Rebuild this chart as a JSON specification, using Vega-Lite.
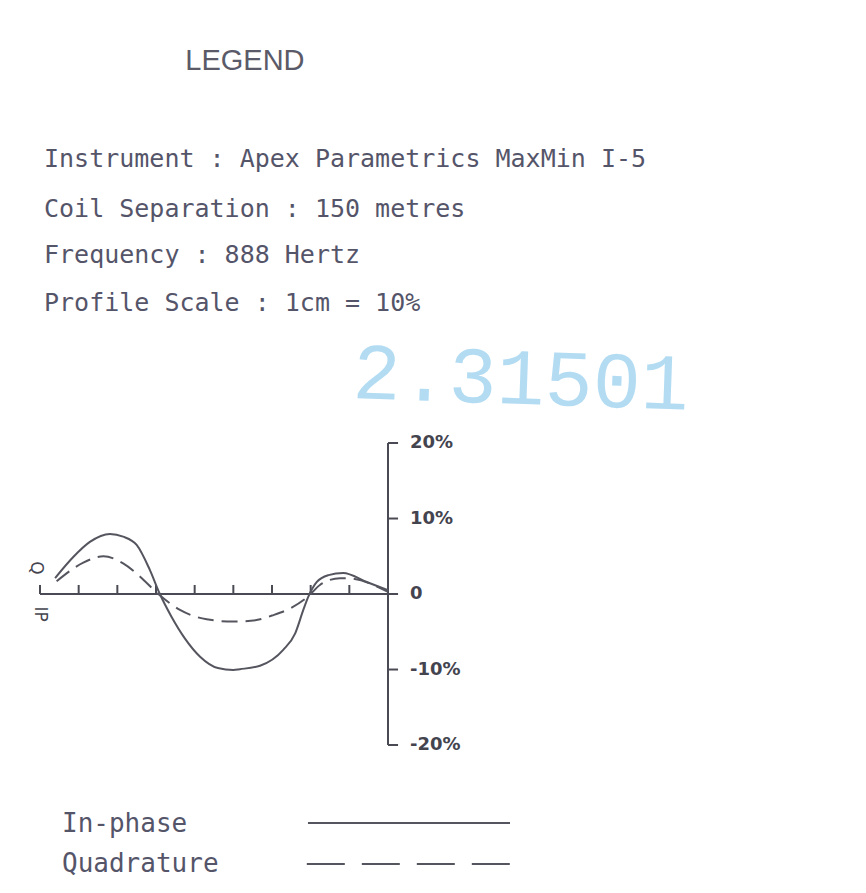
{
  "$schema": "https://vega.github.io/schema/vega-lite/v6.json",
  "width": 866,
  "height": 893,
  "autosize": {"type": "fit", "contains": "padding"},
  "padding": 0,
  "background": "white",
  "config": {"view": {"stroke": null}},
  "datasets": {
    "profile": [
      {"series": "In-phase", "d": 0.39, "p": 2.1},
      {"series": "In-phase", "d": 0.86, "p": 4.9},
      {"series": "In-phase", "d": 1.29, "p": 6.9},
      {"series": "In-phase", "d": 1.81, "p": 7.95},
      {"series": "In-phase", "d": 2.15, "p": 7.6},
      {"series": "In-phase", "d": 2.5, "p": 6.5},
      {"series": "In-phase", "d": 2.84, "p": 3.2},
      {"series": "In-phase", "d": 3.1, "p": 0},
      {"series": "In-phase", "d": 3.4, "p": -3.0},
      {"series": "In-phase", "d": 3.75, "p": -5.9},
      {"series": "In-phase", "d": 4.14, "p": -8.3},
      {"series": "In-phase", "d": 4.6, "p": -9.8},
      {"series": "In-phase", "d": 5.0, "p": -10.05},
      {"series": "In-phase", "d": 5.17, "p": -9.95},
      {"series": "In-phase", "d": 5.69, "p": -9.5},
      {"series": "In-phase", "d": 6.29, "p": -7.4},
      {"series": "In-phase", "d": 6.6, "p": -5.2},
      {"series": "In-phase", "d": 6.81, "p": -2.1},
      {"series": "In-phase", "d": 6.94, "p": -0.35},
      {"series": "In-phase", "d": 7.16, "p": 1.6},
      {"series": "In-phase", "d": 7.46, "p": 2.5},
      {"series": "In-phase", "d": 7.84, "p": 2.8},
      {"series": "In-phase", "d": 8.45, "p": 1.6},
      {"series": "In-phase", "d": 9.0, "p": 0.5},
      {"series": "Quadrature", "d": 0.43, "p": 1.7},
      {"series": "Quadrature", "d": 1.12, "p": 4.15},
      {"series": "Quadrature", "d": 1.64, "p": 5.0},
      {"series": "Quadrature", "d": 2.15, "p": 4.05},
      {"series": "Quadrature", "d": 2.59, "p": 2.3},
      {"series": "Quadrature", "d": 3.06, "p": 0},
      {"series": "Quadrature", "d": 3.62, "p": -2.1},
      {"series": "Quadrature", "d": 4.31, "p": -3.35},
      {"series": "Quadrature", "d": 5.0, "p": -3.65},
      {"series": "Quadrature", "d": 5.6, "p": -3.45},
      {"series": "Quadrature", "d": 6.0, "p": -2.85},
      {"series": "Quadrature", "d": 6.47, "p": -1.9},
      {"series": "Quadrature", "d": 6.96, "p": -0.2},
      {"series": "Quadrature", "d": 7.24, "p": 1.2},
      {"series": "Quadrature", "d": 7.76, "p": 2.1},
      {"series": "Quadrature", "d": 7.93, "p": 2.1},
      {"series": "Quadrature", "d": 9.0, "p": 0.3}
    ],
    "axes": [
      {"d": 9, "d2": 9, "p": -20, "p2": 20},
      {"d": 0, "d2": 9, "p": 0, "p2": 0},
      {"d": 9, "d2": 9.26, "p": 20, "p2": 20},
      {"d": 9, "d2": 9.26, "p": 10, "p2": 10},
      {"d": 9, "d2": 9.26, "p": 0, "p2": 0},
      {"d": 9, "d2": 9.26, "p": -10, "p2": -10},
      {"d": 9, "d2": 9.26, "p": -20, "p2": -20},
      {"d": 0, "d2": 0, "p": 0, "p2": 1.2},
      {"d": 1, "d2": 1, "p": 0, "p2": 1.2},
      {"d": 2, "d2": 2, "p": 0, "p2": 1.2},
      {"d": 3, "d2": 3, "p": 0, "p2": 1.2},
      {"d": 4, "d2": 4, "p": 0, "p2": 1.2},
      {"d": 5, "d2": 5, "p": 0, "p2": 1.2},
      {"d": 6, "d2": 6, "p": 0, "p2": 1.2},
      {"d": 7, "d2": 7, "p": 0, "p2": 1.2},
      {"d": 8, "d2": 8, "p": 0, "p2": 1.2}
    ],
    "tickLabels": [
      {"label": "20%", "d": 9.57, "p": 20},
      {"label": "10%", "d": 9.57, "p": 10},
      {"label": "0", "d": 9.57, "p": 0},
      {"label": "-10%", "d": 9.57, "p": -10},
      {"label": "-20%", "d": 9.57, "p": -20}
    ],
    "profileLabels": [
      {"label": "Q", "d": -0.1, "p": 3.44},
      {"label": "IP", "d": 0.0, "p": -2.65}
    ],
    "title": [
      {"label": "LEGEND", "d": 5.3, "p": 69.4}
    ],
    "header": [
      {"label": "Instrument : Apex Parametrics MaxMin I-5", "d": 0.103, "p": 56.6},
      {"label": "Coil Separation : 150 metres", "d": 0.103, "p": 49.97},
      {"label": "Frequency : 888 Hertz", "d": 0.103, "p": 43.9},
      {"label": "Profile Scale : 1cm = 10%", "d": 0.103, "p": 37.48}
    ],
    "stamp": [
      {"label": "2.31501", "d": 8.07, "p": 25.96}
    ],
    "keyLines": [
      {"series": "In-phase", "d": 6.93, "d2": 12.155, "p": -30.33},
      {"series": "Quadrature", "d": 6.9, "d2": 12.155, "p": -35.76}
    ],
    "keyLabels": [
      {"label": "In-phase", "d": 0.569, "p": -31.52},
      {"label": "Quadrature", "d": 0.569, "p": -36.82}
    ]
  },
  "layer": [
    {
      "data": {"name": "axes"},
      "mark": {"type": "rule", "color": "#4a4a55", "strokeWidth": 2},
      "encoding": {
        "x": {"field": "d", "type": "quantitative", "scale": {"domain": [-1.0345, 21.362], "nice": false, "zero": false}, "axis": null},
        "x2": {"field": "d2"},
        "y": {"field": "p", "type": "quantitative", "scale": {"domain": [-39.6, 78.68], "nice": false, "zero": false}, "axis": null},
        "y2": {"field": "p2"}
      }
    },
    {
      "data": {"name": "profile"},
      "transform": [{"filter": "datum.series === 'In-phase'"}],
      "mark": {"type": "line", "color": "#55555f", "strokeWidth": 2, "interpolate": "monotone"},
      "encoding": {
        "x": {"field": "d", "type": "quantitative", "scale": {"domain": [-1.0345, 21.362], "nice": false, "zero": false}, "axis": null},
        "y": {"field": "p", "type": "quantitative", "scale": {"domain": [-39.6, 78.68], "nice": false, "zero": false}, "axis": null},
        "order": {"field": "d"}
      }
    },
    {
      "data": {"name": "profile"},
      "transform": [{"filter": "datum.series === 'Quadrature'"}],
      "mark": {"type": "line", "color": "#55555f", "strokeWidth": 2, "interpolate": "monotone", "strokeDash": [16, 8]},
      "encoding": {
        "x": {"field": "d", "type": "quantitative", "scale": {"domain": [-1.0345, 21.362], "nice": false, "zero": false}, "axis": null},
        "y": {"field": "p", "type": "quantitative", "scale": {"domain": [-39.6, 78.68], "nice": false, "zero": false}, "axis": null},
        "order": {"field": "d"}
      }
    },
    {
      "data": {"name": "keyLines"},
      "transform": [{"filter": "datum.series === 'In-phase'"}],
      "mark": {"type": "rule", "color": "#55555f", "strokeWidth": 2},
      "encoding": {
        "x": {"field": "d", "type": "quantitative", "scale": {"domain": [-1.0345, 21.362], "nice": false, "zero": false}, "axis": null},
        "x2": {"field": "d2"},
        "y": {"field": "p", "type": "quantitative", "scale": {"domain": [-39.6, 78.68], "nice": false, "zero": false}, "axis": null}
      }
    },
    {
      "data": {"name": "keyLines"},
      "transform": [{"filter": "datum.series === 'Quadrature'"}],
      "mark": {"type": "rule", "color": "#55555f", "strokeWidth": 2, "strokeDash": [38, 17]},
      "encoding": {
        "x": {"field": "d", "type": "quantitative", "scale": {"domain": [-1.0345, 21.362], "nice": false, "zero": false}, "axis": null},
        "x2": {"field": "d2"},
        "y": {"field": "p", "type": "quantitative", "scale": {"domain": [-39.6, 78.68], "nice": false, "zero": false}, "axis": null}
      }
    },
    {
      "data": {"name": "title"},
      "mark": {"type": "text", "font": "Liberation Sans", "fontSize": 29, "color": "#5a5a68", "align": "center", "baseline": "alphabetic"},
      "encoding": {
        "x": {"field": "d", "type": "quantitative", "scale": {"domain": [-1.0345, 21.362], "nice": false, "zero": false}, "axis": null},
        "y": {"field": "p", "type": "quantitative", "scale": {"domain": [-39.6, 78.68], "nice": false, "zero": false}, "axis": null},
        "text": {"field": "label"}
      }
    },
    {
      "data": {"name": "header"},
      "mark": {"type": "text", "font": "DejaVu Sans Mono", "fontSize": 25, "color": "#55556a", "align": "left", "baseline": "alphabetic"},
      "encoding": {
        "x": {"field": "d", "type": "quantitative", "scale": {"domain": [-1.0345, 21.362], "nice": false, "zero": false}, "axis": null},
        "y": {"field": "p", "type": "quantitative", "scale": {"domain": [-39.6, 78.68], "nice": false, "zero": false}, "axis": null},
        "text": {"field": "label"}
      }
    },
    {
      "data": {"name": "stamp"},
      "mark": {"type": "text", "font": "Liberation Mono", "fontSize": 80, "color": "#b3dcf3", "align": "left", "baseline": "alphabetic", "angle": 2},
      "encoding": {
        "x": {"field": "d", "type": "quantitative", "scale": {"domain": [-1.0345, 21.362], "nice": false, "zero": false}, "axis": null},
        "y": {"field": "p", "type": "quantitative", "scale": {"domain": [-39.6, 78.68], "nice": false, "zero": false}, "axis": null},
        "text": {"field": "label"}
      }
    },
    {
      "data": {"name": "tickLabels"},
      "mark": {"type": "text", "font": "DejaVu Sans", "fontWeight": "bold", "fontSize": 18, "color": "#44444f", "align": "left", "baseline": "middle"},
      "encoding": {
        "x": {"field": "d", "type": "quantitative", "scale": {"domain": [-1.0345, 21.362], "nice": false, "zero": false}, "axis": null},
        "y": {"field": "p", "type": "quantitative", "scale": {"domain": [-39.6, 78.68], "nice": false, "zero": false}, "axis": null},
        "text": {"field": "label"}
      }
    },
    {
      "data": {"name": "profileLabels"},
      "mark": {"type": "text", "font": "DejaVu Sans", "fontSize": 17, "color": "#44444f", "align": "center", "baseline": "middle", "angle": 90},
      "encoding": {
        "x": {"field": "d", "type": "quantitative", "scale": {"domain": [-1.0345, 21.362], "nice": false, "zero": false}, "axis": null},
        "y": {"field": "p", "type": "quantitative", "scale": {"domain": [-39.6, 78.68], "nice": false, "zero": false}, "axis": null},
        "text": {"field": "label"}
      }
    },
    {
      "data": {"name": "keyLabels"},
      "mark": {"type": "text", "font": "DejaVu Sans Mono", "fontSize": 26, "color": "#55556a", "align": "left", "baseline": "alphabetic"},
      "encoding": {
        "x": {"field": "d", "type": "quantitative", "scale": {"domain": [-1.0345, 21.362], "nice": false, "zero": false}, "axis": null},
        "y": {"field": "p", "type": "quantitative", "scale": {"domain": [-39.6, 78.68], "nice": false, "zero": false}, "axis": null},
        "text": {"field": "label"}
      }
    }
  ]
}
